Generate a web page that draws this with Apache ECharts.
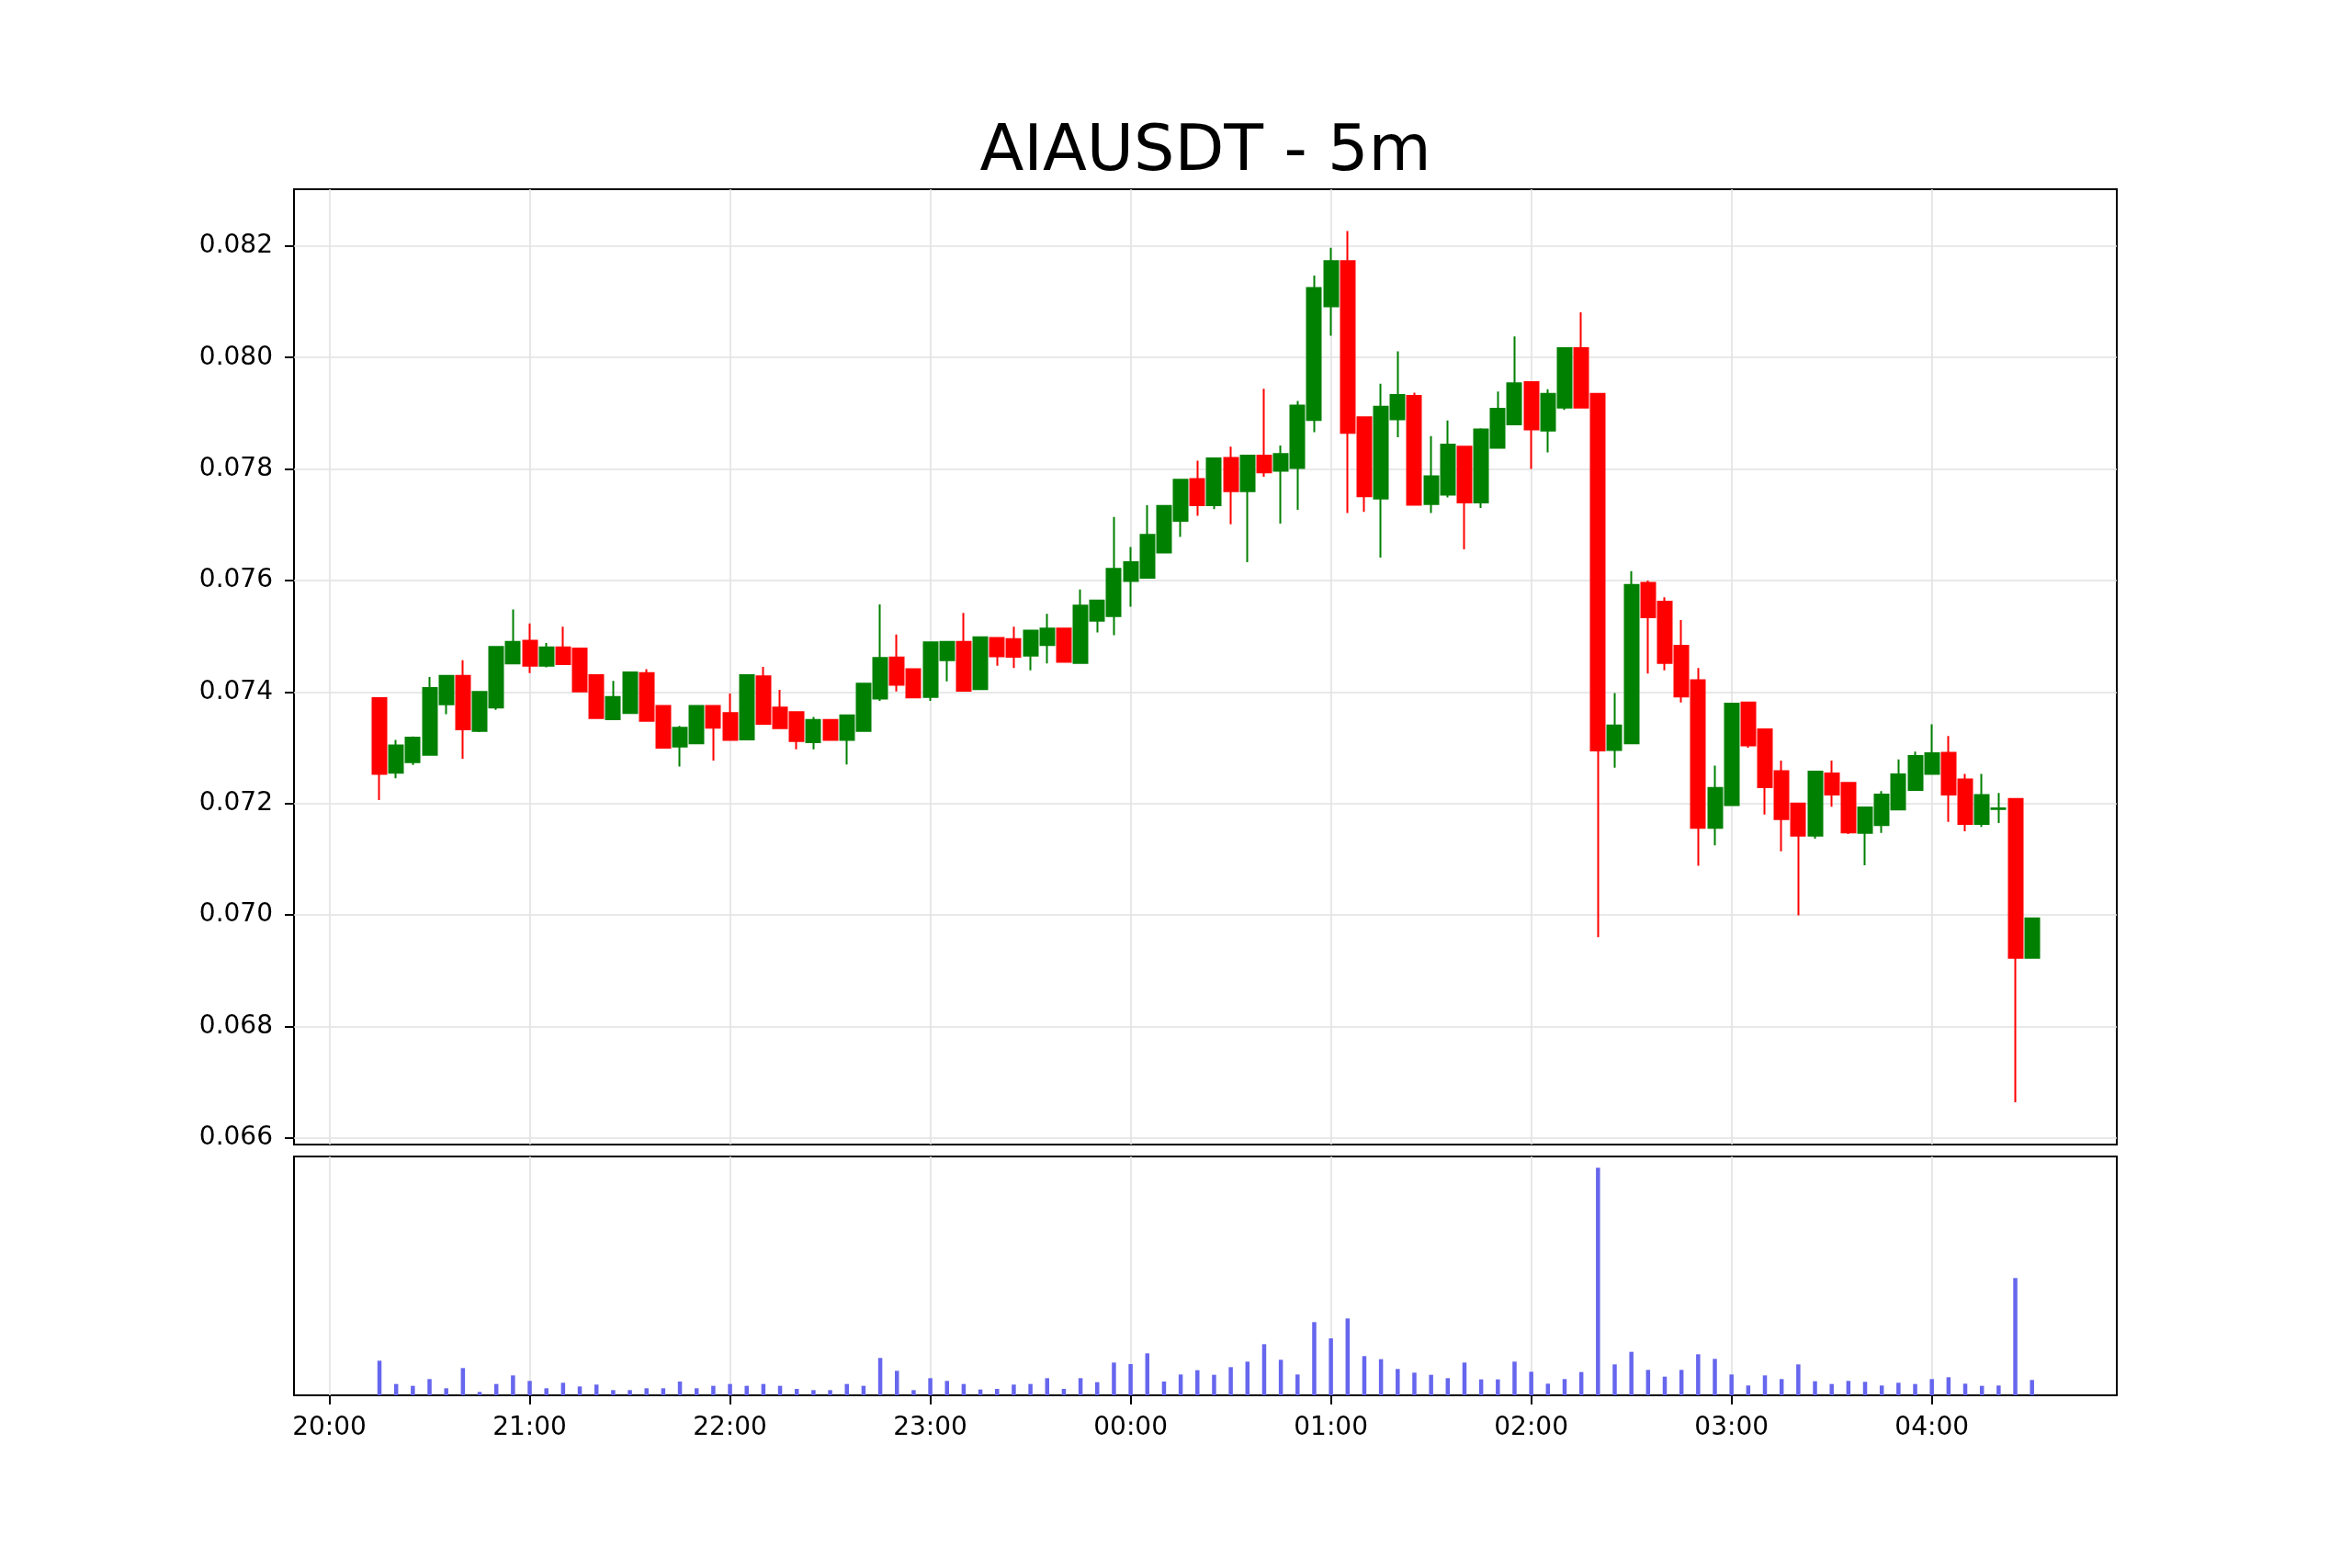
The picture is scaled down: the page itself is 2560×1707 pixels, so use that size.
<!DOCTYPE html>
<html>
<head>
<meta charset="utf-8">
<title>AIAUSDT - 5m</title>
<script src="https://cdn.jsdelivr.net/npm/echarts@6/dist/echarts.min.js"></script>
<style>
  html, body { margin: 0; padding: 0; background: #fff; }
  #chart { width: 2560px; height: 1707px; }
</style>
</head>
<body>
<div id="chart"></div>
<script>
// 5m candles, 20:15 -> 04:30
var times = [
  '20:15','20:20','20:25','20:30','20:35','20:40','20:45','20:50','20:55','21:00',
  '21:05','21:10','21:15','21:20','21:25','21:30','21:35','21:40','21:45','21:50',
  '21:55','22:00','22:05','22:10','22:15','22:20','22:25','22:30','22:35','22:40',
  '22:45','22:50','22:55','23:00','23:05','23:10','23:15','23:20','23:25','23:30',
  '23:35','23:40','23:45','23:50','23:55','00:00','00:05','00:10','00:15','00:20',
  '00:25','00:30','00:35','00:40','00:45','00:50','00:55','01:00','01:05','01:10',
  '01:15','01:20','01:25','01:30','01:35','01:40','01:45','01:50','01:55','02:00',
  '02:05','02:10','02:15','02:20','02:25','02:30','02:35','02:40','02:45','02:50',
  '02:55','03:00','03:05','03:10','03:15','03:20','03:25','03:30','03:35','03:40',
  '03:45','03:50','03:55','04:00','04:05','04:10','04:15','04:20','04:25','04:30'
];

var open = [
  0.07389,0.07255,0.07274,0.07287,0.07378,0.07429,0.07330,0.07372,0.07451,0.07492,
  0.07447,0.07480,0.07478,0.07430,0.07351,0.07362,0.07434,0.07375,0.07302,0.07308,
  0.07375,0.07362,0.07315,0.07428,0.07372,0.07364,0.07310,0.07350,0.07314,0.07330,
  0.07388,0.07462,0.07441,0.07391,0.07457,0.07490,0.07405,0.07497,0.07495,0.07465,
  0.07484,0.07514,0.07452,0.07528,0.07536,0.07599,0.07605,0.07650,0.07707,0.07782,
  0.07735,0.07820,0.07760,0.07824,0.07797,0.07802,0.07888,0.08092,0.08173,0.07893,
  0.07747,0.07889,0.07931,0.07737,0.07754,0.07840,0.07740,0.07838,0.07880,0.07956,
  0.07869,0.07910,0.08017,0.07935,0.07296,0.07308,0.07596,0.07562,0.07483,0.07421,
  0.07156,0.07197,0.07381,0.07333,0.07258,0.07200,0.07142,0.07254,0.07237,0.07147,
  0.07161,0.07189,0.07224,0.07253,0.07291,0.07243,0.07163,0.07190,0.07208,0.06923
];
var high = [
  0.07389,0.07314,0.07320,0.07427,0.07429,0.07457,0.07400,0.07481,0.07548,0.07523,
  0.07488,0.07517,0.07478,0.07430,0.07420,0.07435,0.07441,0.07375,0.07339,0.07375,
  0.07375,0.07397,0.07430,0.07445,0.07404,0.07364,0.07355,0.07351,0.07358,0.07415,
  0.07557,0.07503,0.07441,0.07489,0.07490,0.07542,0.07498,0.07497,0.07517,0.07510,
  0.07540,0.07514,0.07584,0.07564,0.07714,0.07660,0.07735,0.07734,0.07781,0.07815,
  0.07819,0.07840,0.07824,0.07944,0.07842,0.07922,0.08147,0.08197,0.08227,0.07893,
  0.07953,0.08011,0.07937,0.07859,0.07887,0.07840,0.07873,0.07939,0.08038,0.07956,
  0.07943,0.08017,0.08081,0.07935,0.07398,0.07617,0.07600,0.07570,0.07529,0.07443,
  0.07268,0.07379,0.07381,0.07333,0.07277,0.07200,0.07257,0.07277,0.07237,0.07193,
  0.07222,0.07279,0.07293,0.07342,0.07321,0.07253,0.07253,0.07219,0.07208,0.06994
];
var low = [
  0.07206,0.07245,0.07269,0.07287,0.07360,0.07280,0.07328,0.07368,0.07451,0.07434,
  0.07444,0.07450,0.07401,0.07353,0.07351,0.07362,0.07348,0.07300,0.07266,0.07308,
  0.07277,0.07314,0.07315,0.07343,0.07335,0.07297,0.07297,0.07314,0.07270,0.07330,
  0.07384,0.07401,0.07390,0.07384,0.07419,0.07402,0.07405,0.07447,0.07443,0.07439,
  0.07451,0.07454,0.07452,0.07507,0.07502,0.07553,0.07605,0.07649,0.07678,0.07716,
  0.07728,0.07701,0.07633,0.07786,0.07702,0.07727,0.07866,0.08039,0.07721,0.07723,
  0.07641,0.07857,0.07736,0.07721,0.07749,0.07656,0.07730,0.07838,0.07880,0.07800,
  0.07830,0.07906,0.07910,0.06960,0.07264,0.07308,0.07433,0.07439,0.07381,0.07088,
  0.07125,0.07197,0.07300,0.07180,0.07114,0.06999,0.07137,0.07194,0.07145,0.07089,
  0.07147,0.07189,0.07224,0.07253,0.07167,0.07150,0.07158,0.07165,0.06664,0.06923
];
var close = [
  0.07253,0.07304,0.07318,0.07407,0.07429,0.07333,0.07400,0.07481,0.07490,0.07447,
  0.07480,0.07450,0.07401,0.07353,0.07391,0.07435,0.07348,0.07300,0.07336,0.07375,
  0.07336,0.07314,0.07430,0.07343,0.07335,0.07312,0.07350,0.07314,0.07358,0.07415,
  0.07461,0.07413,0.07390,0.07489,0.07490,0.07402,0.07498,0.07464,0.07463,0.07510,
  0.07514,0.07454,0.07555,0.07564,0.07621,0.07633,0.07682,0.07734,0.07781,0.07735,
  0.07819,0.07760,0.07824,0.07794,0.07827,0.07914,0.08125,0.08173,0.07865,0.07751,
  0.07912,0.07933,0.07736,0.07787,0.07844,0.07740,0.07871,0.07908,0.07954,0.07871,
  0.07935,0.08017,0.07910,0.07295,0.07340,0.07592,0.07534,0.07452,0.07392,0.07156,
  0.07228,0.07379,0.07304,0.07229,0.07172,0.07142,0.07257,0.07216,0.07148,0.07193,
  0.07216,0.07252,0.07285,0.07290,0.07216,0.07163,0.07215,0.07191,0.06923,0.06994
];
var volume = [
  113,37,31,53,23,89,11,37,65,47,
  23,41,29,35,17,17,23,23,45,23,
  31,37,31,37,31,21,17,17,37,31,
  122,80,17,56,47,37,19,21,35,37,
  56,21,56,43,107,102,137,45,68,82,
  67,92,110,167,116,68,239,186,251,128,
  118,86,74,67,56,107,52,52,110,77,
  38,53,76,743,101,142,83,61,83,134,
  119,68,32,65,53,101,46,37,47,44,
  32,41,37,53,59,38,31,32,383,50
];

var hourTicks = [0, 60, 120, 180, 240, 300, 360, 420, 480];
var hourLabels = ['20:00','21:00','22:00','23:00','00:00','01:00','02:00','03:00','04:00'];
var priceTicks = [0.066, 0.068, 0.070, 0.072, 0.074, 0.076, 0.078, 0.080, 0.082];

// minutes after 20:00
function toMin(t) {
  var h = parseInt(t.slice(0, 2), 10), m = parseInt(t.slice(3), 10);
  if (h < 20) h += 24;
  return (h - 20) * 60 + m;
}

var candleData = times.map(function (t, i) {
  return [toMin(t), open[i], close[i], low[i], high[i]];
});
var volData = times.map(function (t, i) {
  return [toMin(t), volume[i]];
});

var font = 'DejaVu Sans';
var gridLine = { show: true, lineStyle: { color: '#e2e2e2', width: 1.6 } };

var myChart = echarts.init(document.getElementById('chart'));
myChart.setOption({
  animation: false,
  backgroundColor: '#fff',
  title: {
    text: 'AIAUSDT - 5m',
    left: 1312,
    top: 167,
    padding: 0,
    textAlign: 'center',
    textVerticalAlign: 'middle',
    textStyle: { fontFamily: font, fontSize: 70, fontWeight: 'normal', color: '#000' }
  },
  grid: [
    { left: 320, top: 206, width: 1984, height: 1040, show: true, borderColor: '#000', borderWidth: 2, containLabel: false },
    { left: 320, top: 1259, width: 1984, height: 260, show: true, borderColor: '#000', borderWidth: 2, containLabel: false }
  ],
  xAxis: [
    {
      type: 'value', gridIndex: 0, min: -10.6, max: 535.4,
      axisLine: { show: false, onZero: false },
      axisTick: { show: true, length: 0, customValues: hourTicks },
      axisLabel: { show: false },
      splitLine: gridLine
    },
    {
      type: 'value', gridIndex: 1, min: -10.6, max: 535.4,
      axisLine: { show: false, onZero: false },
      axisTick: { show: true, inside: false, length: 10, customValues: hourTicks,
        lineStyle: { color: '#000', width: 2 } },
      axisLabel: {
        show: true, margin: 22, customValues: hourTicks,
        fontFamily: font, fontSize: 28, color: '#000',
        formatter: function (v) { return hourLabels[hourTicks.indexOf(v)]; }
      },
      splitLine: gridLine
    }
  ],
  yAxis: [
    {
      type: 'value', gridIndex: 0, min: 0.06588, max: 0.08302, scale: true,
      axisLine: { show: false, onZero: false },
      axisTick: { show: true, inside: false, length: 10, customValues: priceTicks,
        lineStyle: { color: '#000', width: 2 } },
      axisLabel: {
        show: true, margin: 23, customValues: priceTicks,
        fontFamily: font, fontSize: 28, color: '#000',
        formatter: function (v) { return v.toFixed(3); }
      },
      splitLine: gridLine
    },
    {
      type: 'value', gridIndex: 1, min: 0, max: 780,
      axisLine: { show: false, onZero: false },
      axisTick: { show: false },
      axisLabel: { show: false },
      splitLine: { show: false }
    }
  ],
  series: [
    {
      type: 'candlestick',
      xAxisIndex: 0, yAxisIndex: 0,
      barWidth: 15.5,
      itemStyle: {
        color: '#008000', color0: '#ff0000',
        borderColor: '#008000', borderColor0: '#ff0000',
        borderWidth: 2
      },
      data: candleData
    },
    {
      type: 'bar',
      xAxisIndex: 1, yAxisIndex: 1,
      barWidth: 4.5,
      itemStyle: { color: '#6666ee' },
      data: volData
    }
  ]
});
</script>
</body>
</html>
